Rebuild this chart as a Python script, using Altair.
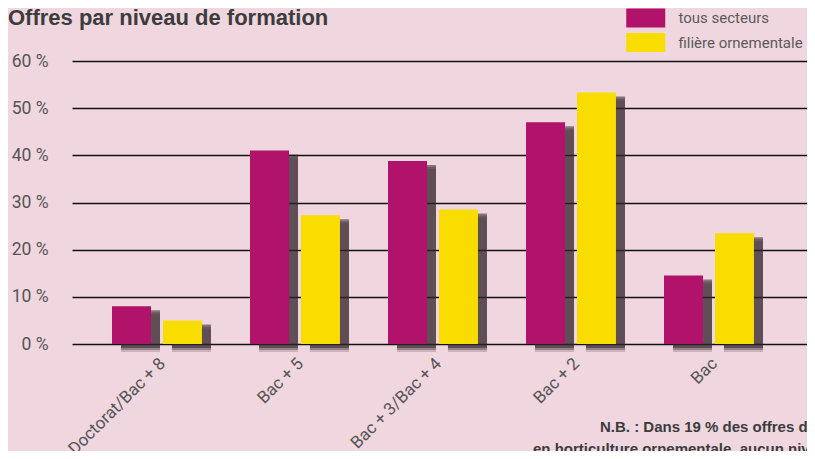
import altair as alt
import pandas as pd

categories = ["Doctorat/Bac + 8", "Bac + 5", "Bac + 3/Bac + 4", "Bac + 2", "Bac"]
series = ["tous secteurs", "filière ornementale"]
tous_secteurs = [8, 41, 38.8, 47, 14.5]
filiere_ornementale = [5, 27.3, 28.5, 53.3, 23.5]
y_ticks = [0, 10, 20, 30, 40, 50, 60]
colors = ["#b1126a", "#f9dc00"]
note_lines = [
    "N.B. : Dans 19 % des offres d’emploi",
    "en horticulture ornementale, aucun niveau",
    "le niveau de formation n’est pas mentionné.",
]

rows = []
for i, c in enumerate(categories):
    rows.append({"cat": c, "serie": series[0], "val": tous_secteurs[i]})
    rows.append({"cat": c, "serie": series[1], "val": filiere_ornementale[i]})
df = pd.DataFrame(rows)

W, H = 735, 283
BG = "#f0d6df"
FONT = "Roboto"
SHADOW = "#33252c"
BANDW = 735 / (5 - 0.348 + 0.674) * 0.652

x_enc = alt.X("cat:N", sort=categories, title=None,
              scale=alt.Scale(paddingInner=0.348, paddingOuter=0.337, align=0.43),
              axis=alt.Axis(labelAngle=315, labelFont=FONT, labelFontSize=17,
                            labelColor="#555555", labelPadding=11, domain=False,
                            ticks=False, grid=False))
y_enc = alt.Y("val:Q", title=None,
              scale=alt.Scale(domain=[0, 60], nice=False),
              axis=alt.Axis(values=y_ticks, labelExpr="datum.value + ' %'",
                            labelFont=FONT, labelFontSize=17.5, labelColor="#555555",
                            labelPadding=24, domain=False, ticks=False, grid=True,
                            gridColor="#111111", gridWidth=1.3))

base = alt.Chart(df)

def shadow_xo(shift):
    return alt.XOffset("serie:N", sort=series,
                       scale=alt.Scale(paddingInner=0.235, paddingOuter=0,
                                       range=[shift, BANDW + shift]))

shadow_a = base.mark_bar(fill=SHADOW, fillOpacity=0.2, yOffset=8).encode(
    x=x_enc, xOffset=shadow_xo(9), y=y_enc)
shadow_b = base.mark_bar(fill=SHADOW, fillOpacity=0.35, yOffset=6).encode(
    x=x_enc, xOffset=shadow_xo(7), y=y_enc)
shadow_c = base.mark_bar(fill=SHADOW, fillOpacity=0.55, yOffset=4).encode(
    x=x_enc, xOffset=shadow_xo(4), y=y_enc)

bars = base.mark_bar().encode(
    x=x_enc,
    xOffset=alt.XOffset("serie:N", sort=series,
                        scale=alt.Scale(paddingInner=0.235, paddingOuter=0,
                                        range=[0, BANDW])),
    y=y_enc,
    color=alt.Color("serie:N", sort=series,
                    scale=alt.Scale(domain=series, range=colors),
                    legend=alt.Legend(orient="none", legendX=563.75, legendY=-53,
                                      title=None, padding=0,
                                      symbolType="M-2,-0.9744H2V0.9744H-2Z",
                                      symbolSize=380.25, symbolStrokeWidth=0,
                                      symbolOpacity=1,
                                      labelFont=FONT, labelFontSize=15,
                                      labelColor="#5a5a5a", labelOffset=22.75,
                                      rowPadding=4.5)),
)

title = alt.Chart(pd.DataFrame({"t": ["Offres par niveau de formation"]})).mark_text(
    align="left", baseline="alphabetic", font="Liberation Sans", fontWeight="bold",
    fontSize=22, color="#3c3c3c").encode(
    text="t:N", x=alt.value(-64), y=alt.value(-36))

note1 = alt.Chart(pd.DataFrame({"t": [note_lines[0]]})).mark_text(
    align="left", font="Liberation Sans", fontWeight="bold", fontSize=15,
    color="#3c3c3c").encode(text="t:N", x=alt.value(528), y=alt.value(366))
note2 = alt.Chart(pd.DataFrame({"t": [note_lines[1]]})).mark_text(
    align="left", font="Liberation Sans", fontWeight="bold", fontSize=15,
    color="#3c3c3c").encode(text="t:N", x=alt.value(461), y=alt.value(388))
note3 = alt.Chart(pd.DataFrame({"t": [note_lines[2]]})).mark_text(
    align="left", font="Liberation Sans", fontWeight="bold", fontSize=15,
    color="#3c3c3c").encode(text="t:N", x=alt.value(453), y=alt.value(411))

shadows = alt.layer(shadow_a, shadow_b, shadow_c)
chart = alt.layer(shadows, bars, title, note1, note2, note3).resolve_scale(
    xOffset="independent"
).properties(
    width=W, height=H,
    autosize=alt.AutoSizeParams(type="none"),
    padding={"left": 64, "top": 53, "right": 0, "bottom": 107},
    background=BG,
).configure_view(stroke=None)

chart.save("out.html", embed_options={"renderer": "svg", "actions": False})
